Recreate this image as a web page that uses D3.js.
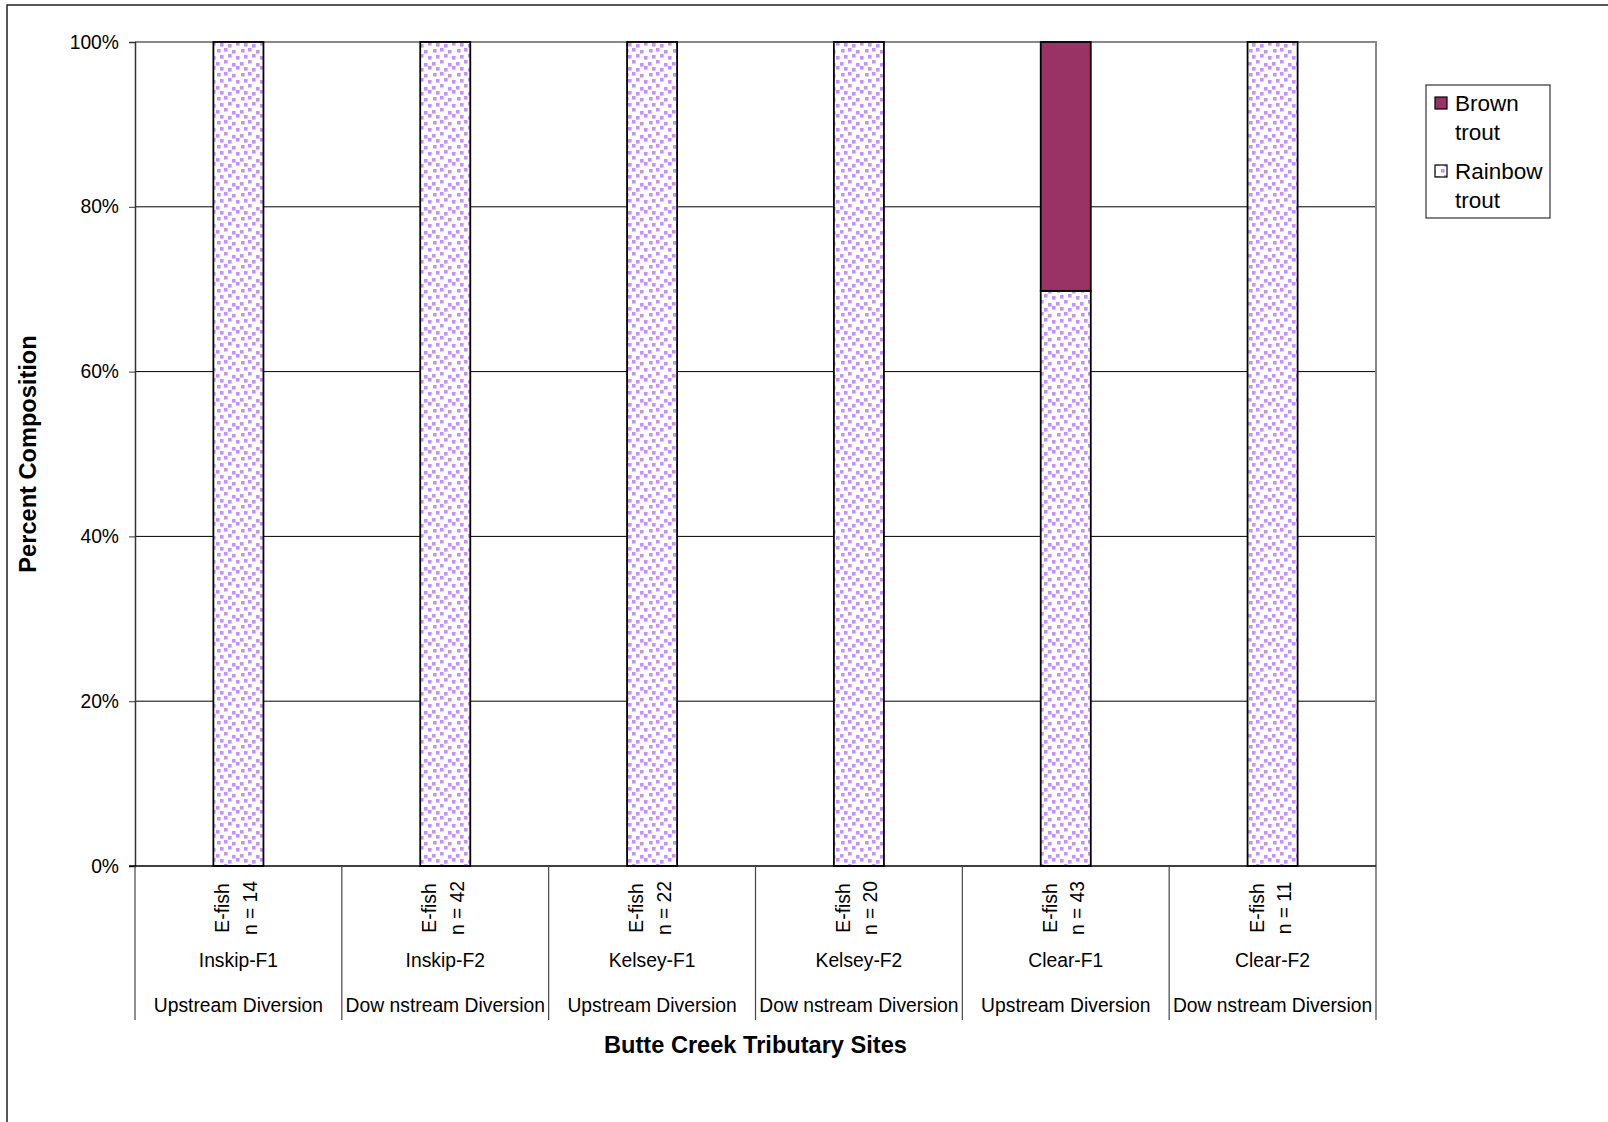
<!DOCTYPE html>
<html>
<head>
<meta charset="utf-8">
<script src="https://cdn.jsdelivr.net/npm/d3@7"></script>
<style>
  html, body { margin: 0; padding: 0; background: #fff; }
  svg { display: block; font-family: Arial, "Liberation Sans", sans-serif; }
</style>
</head>
<body>
<svg id="chart" width="1608" height="1122"></svg>
<script>
// ---- data ----
const sites = ["Inskip-F1", "Inskip-F2", "Kelsey-F1", "Kelsey-F2", "Clear-F1", "Clear-F2"];
const locations = ["Upstream Diversion", "Dow nstream Diversion", "Upstream Diversion", "Dow nstream Diversion", "Upstream Diversion", "Dow nstream Diversion"];
const methods = ["E-fish", "E-fish", "E-fish", "E-fish", "E-fish", "E-fish"];
const sampleSizes = [14, 42, 22, 20, 43, 11];
const rainbowTrout = [1.0, 1.0, 1.0, 1.0, 0.698, 1.0];
const brownTrout = [0.0, 0.0, 0.0, 0.0, 0.302, 0.0];
const yTicks = [0, 0.2, 0.4, 0.6, 0.8, 1.0];
const seriesNames = ["Brown trout", "Rainbow trout"];

(function () {
// ---- layout ----
const svg = d3.select("#chart");
const pLeft = 135, pRight = 1376, pTop = 42, pBottom = 866;
const font = 'Arial, "Liberation Sans", sans-serif';

// outer border (extends past the picture on right/bottom)
svg.append("rect").attr("x", 7).attr("y", 5).attr("width", 1700).attr("height", 1300)
  .attr("fill", "#fff").attr("stroke", "#222").attr("stroke-width", 1.5);

// pattern for rainbow trout
const defs = svg.append("defs");
const pat = defs.append("pattern").attr("id", "dots").attr("patternUnits", "userSpaceOnUse")
  .attr("width", 24).attr("height", 24);
pat.append("rect").attr("width", 24).attr("height", 24).attr("fill", "#fff");
const dotPos = [[1,1],[8,0],[16,2],[4,7],[12,6],[20,8],[0,14],[8,12],[16,15],[4,19],[12,20],[20,18]];
dotPos.forEach(p => pat.append("rect").attr("x", p[0]).attr("y", p[1]).attr("width", 3.6).attr("height", 3.6).attr("fill", "#c592fb"));

const x = d3.scaleBand().domain(sites).range([pLeft, pRight]).paddingInner(0.758).paddingOuter(0.379);
const y = d3.scaleLinear().domain([0, 1]).range([pBottom, pTop]);

// gridlines
svg.append("g").selectAll("line").data(yTicks.filter(t => t > 0 && t < 1)).join("line")
  .attr("x1", pLeft).attr("x2", pRight).attr("y1", d => y(d)).attr("y2", d => y(d))
  .attr("stroke", "#000").attr("stroke-width", 1);

// plot area border top/right (gray)
svg.append("path").attr("d", `M${pLeft},${y(1)}H${pRight}V${pBottom}`)
  .attr("fill", "none").attr("stroke", "#888").attr("stroke-width", 2);

// bars
const data = sites.map((s, i) => ({ site: s, rainbow: rainbowTrout[i], brown: brownTrout[i] }));
const bars = svg.append("g");
bars.selectAll("rect.rb").data(data).join("rect").attr("class", "rb")
  .attr("x", d => x(d.site)).attr("width", x.bandwidth())
  .attr("y", d => y(d.rainbow)).attr("height", d => y(0) - y(d.rainbow))
  .attr("fill", "url(#dots)").attr("stroke", "#000").attr("stroke-width", 1.8);
bars.selectAll("rect.br").data(data.filter(d => d.brown > 0)).join("rect").attr("class", "br")
  .attr("x", d => x(d.site)).attr("width", x.bandwidth())
  .attr("y", d => y(d.rainbow + d.brown)).attr("height", d => y(d.rainbow) - y(d.rainbow + d.brown))
  .attr("fill", "#993366").attr("stroke", "#000").attr("stroke-width", 1.8);

// y axis
const yAxis = d3.axisLeft(y).tickValues(yTicks).tickFormat(d3.format(".0%")).tickSize(6).tickPadding(10);
const gy = svg.append("g").attr("transform", `translate(${pLeft},0)`).call(yAxis);
gy.select(".domain").attr("stroke", "#333").attr("stroke-width", 1.5);
gy.selectAll(".tick line").attr("stroke", "#333");
gy.selectAll(".tick text").attr("font-size", 19.3).attr("font-family", font).attr("fill", "#000");

// x axis baseline
svg.append("line").attr("x1", pLeft - 6).attr("x2", pRight).attr("y1", pBottom).attr("y2", pBottom)
  .attr("stroke", "#000").attr("stroke-width", 1.5);

// category separators
const step = x.step();
const bounds = d3.range(sites.length + 1).map(i => pLeft + i * step);
svg.append("g").selectAll("line").data(bounds).join("line")
  .attr("x1", d => d).attr("x2", d => d).attr("y1", pBottom).attr("y2", 1020)
  .attr("stroke", "#444").attr("stroke-width", 1.2);

// category labels
const cat = svg.append("g").selectAll("g").data(sites).join("g")
  .attr("transform", d => `translate(${x(d) + x.bandwidth() / 2},0)`);
cat.append("text").attr("transform", "translate(-9,908) rotate(-90)")
  .attr("text-anchor", "middle").attr("font-size", 19.3).text((d, i) => methods[i]);
cat.append("text").attr("transform", "translate(18.5,908) rotate(-90)")
  .attr("text-anchor", "middle").attr("font-size", 19.3).text((d, i) => "n = " + sampleSizes[i]);
cat.append("text").attr("y", 967).attr("text-anchor", "middle").attr("font-size", 19.3).text(d => d);
cat.append("text").attr("y", 1012).attr("text-anchor", "middle").attr("font-size", 19.3).text((d, i) => locations[i]);

// axis titles
svg.append("text").attr("x", (pLeft + pRight) / 2).attr("y", 1053).attr("text-anchor", "middle")
  .attr("font-size", 23.6).attr("font-weight", "bold").text("Butte Creek Tributary Sites");
svg.append("text").attr("transform", `translate(36,${(pTop + pBottom) / 2}) rotate(-90)`)
  .attr("text-anchor", "middle").attr("font-size", 23.6).attr("font-weight", "bold").text("Percent Composition");

// legend
const lg = svg.append("g");
lg.append("rect").attr("x", 1426).attr("y", 85).attr("width", 124).attr("height", 133)
  .attr("fill", "#fff").attr("stroke", "#333").attr("stroke-width", 1.2);
const legendItems = [
  { name: seriesNames[0], fill: "#993366", y: 103 },
  { name: seriesNames[1], fill: "url(#dots)", y: 171 }
];
legendItems.forEach(it => {
  lg.append("rect").attr("x", 1435).attr("y", it.y - 6).attr("width", 12).attr("height", 12)
    .attr("fill", it.fill).attr("stroke", "#000").attr("stroke-width", 1.2);
  const words = it.name.split(" ");
  const t = lg.append("text").attr("font-size", 22.5).attr("x", 1455);
  t.append("tspan").attr("x", 1455).attr("y", it.y + 8).text(words[0]);
  t.append("tspan").attr("x", 1455).attr("y", it.y + 37).text(words[1]);
});
})();
</script>
</body>
</html>
